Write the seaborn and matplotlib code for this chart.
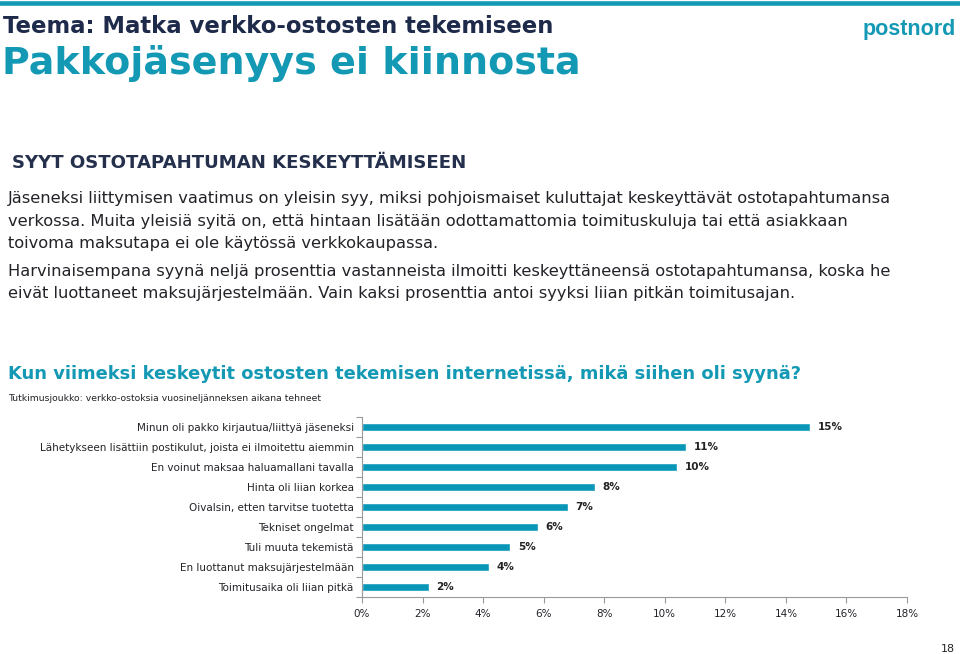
import matplotlib
matplotlib.use("Agg")
import matplotlib.pyplot as plt
import seaborn as sns
import pandas as pd
from matplotlib.ticker import FixedLocator

categories = [
    "Minun oli pakko kirjautua/liittyä jäseneksi",
    "Lähetykseen lisättiin postikulut, joista ei ilmoitettu aiemmin",
    "En voinut maksaa haluamallani tavalla",
    "Hinta oli liian korkea",
    "Oivalsin, etten tarvitse tuotetta",
    "Tekniset ongelmat",
    "Tuli muuta tekemistä",
    "En luottanut maksujärjestelmään",
    "Toimitusaika oli liian pitkä",
]
values = [14.8, 10.7, 10.4, 7.7, 6.8, 5.8, 4.9, 4.2, 2.2]
value_labels = ["15%", "11%", "10%", "8%", "7%", "6%", "5%", "4%", "2%"]
x_ticks = [0, 2, 4, 6, 8, 10, 12, 14, 16, 18]
x_tick_labels = ["0%", "2%", "4%", "6%", "8%", "10%", "12%", "14%", "16%", "18%"]

title1 = "Teema: Matka verkko-ostosten tekemiseen"
title2 = "Pakkojäsenyys ei kiinnosta"
section = "SYYT OSTOTAPAHTUMAN KESKEYTTÄMISEEN"
body = [
    "Jäseneksi liittymisen vaatimus on yleisin syy, miksi pohjoismaiset kuluttajat keskeyttävät ostotapahtumansa",
    "verkossa. Muita yleisiä syitä on, että hintaan lisätään odottamattomia toimituskuluja tai että asiakkaan",
    "toivoma maksutapa ei ole käytössä verkkokaupassa.",
    "Harvinaisempana syynä neljä prosenttia vastanneista ilmoitti keskeyttäneensä ostotapahtumansa, koska he",
    "eivät luottaneet maksujärjestelmään. Vain kaksi prosenttia antoi syyksi liian pitkän toimitusajan.",
]
question = "Kun viimeksi keskeytit ostosten tekemisen internetissä, mikä siihen oli syynä?"
subtitle = "Tutkimusjoukko: verkko-ostoksia vuosineljänneksen aikana tehneet"
logo = "postnord"
page_no = "18"

sns.set_theme(style="white")
plt.rcParams["font.family"] = ["DejaVu Sans"]

TEAL = "#1499b5"
BAR = "#0a96b7"
NAVY = "#1e2a4a"
TXT = "#222228"
AXC = "#9a9a9a"

W, H = 960, 654
fig = plt.figure(figsize=(W / 100, H / 100), dpi=100)


def fy(py):
    return 1 - py / H


def fx(px):
    return px / W


# top rule
fig.add_artist(plt.Line2D([0, 1], [fy(2.5), fy(2.5)], color=TEAL, lw=3.3))

fig.text(fx(3), fy(33), title1, fontsize=16.4, color=NAVY, va="baseline", ha="left",
         fontweight="bold")
fig.text(fx(2), fy(74), title2, fontsize=27.4, color=TEAL, va="baseline", ha="left",
         fontweight="bold")
fig.text(fx(956), fy(35), logo, fontsize=15.5, color=TEAL, va="baseline", ha="right",
         fontweight="heavy", family=["Liberation Sans", "DejaVu Sans"])

fig.text(fx(12), fy(168), section, fontsize=13.1, color="#25304d", va="baseline", ha="left",
         fontweight="bold")
body_y = [203, 226, 248, 276, 298]
for line, y in zip(body, body_y):
    fig.text(fx(8), fy(y), line, fontsize=11.7, color=TXT, va="baseline", ha="left")

fig.text(fx(8), fy(379), question, fontsize=12.9, color=TEAL, va="baseline", ha="left",
         fontweight="bold")
fig.text(fx(8), fy(401), subtitle, fontsize=6.7, color=TXT, va="baseline", ha="left")
fig.text(fx(955), fy(652), page_no, fontsize=8, color=TXT, va="baseline", ha="right")

# chart
ax = fig.add_axes([fx(362), fy(597), fx(907) - fx(362), (597 - 417) / H])
df = pd.DataFrame({"cat": categories, "val": values})
sns.barplot(data=df, y="cat", x="val", orient="h", color=BAR, width=0.42,
            saturation=1, ax=ax)
ax.set_xlim(0, 18)
ax.set_ylim(len(categories) - 0.5, -0.5)
ax.set_xlabel("")
ax.set_ylabel("")
ax.set_xticks(x_ticks)
ax.set_xticklabels(x_tick_labels, fontsize=7.5, color=TXT)
ax.tick_params(axis="y", which="major", length=0, pad=6, labelsize=7.5, labelcolor=TXT)
ax.yaxis.set_minor_locator(FixedLocator([i - 0.5 for i in range(len(categories) + 1)]))
ax.tick_params(axis="y", which="minor", length=4, color=AXC, width=0.8, left=True)
ax.tick_params(axis="x", which="major", length=4, color=AXC, width=0.8, bottom=True, pad=4.5)
for s in ["top", "right"]:
    ax.spines[s].set_visible(False)
for s in ["left", "bottom"]:
    ax.spines[s].set_color(AXC)
    ax.spines[s].set_linewidth(0.8)
ax.grid(False)

for i, (v, lab) in enumerate(zip(values, value_labels)):
    ax.annotate(lab, xy=(v, i), xytext=(5.5, 0), textcoords="offset points",
                va="center", ha="left", fontsize=7.5, fontweight="bold", color="#222222")

fig.savefig("out.png", dpi=100)
